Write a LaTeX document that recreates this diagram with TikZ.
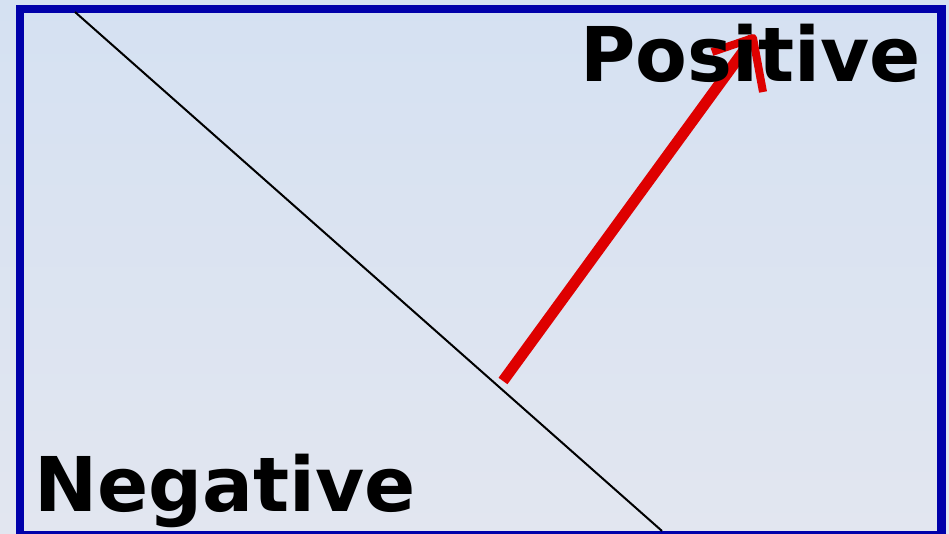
\documentclass[tikz,border=0pt]{standalone}
\usepackage{fontspec}
\setmainfont{DejaVu Sans}
\definecolor{bgtop}{RGB}{213,225,242}
\definecolor{bgbot}{RGB}{226,230,240}
\definecolor{frameblue}{RGB}{0,0,170}
\definecolor{arrowred}{RGB}{222,0,0}
\tikzset{
  labeltext/.style={inner sep=0pt, font=\fontsize{75.5pt}{80pt}\selectfont\bfseries, text=black},
  divider/.style={black, line width=2pt},
  redstroke/.style={arrowred, line width=11pt},
  redbarb/.style={arrowred, line width=8pt, line join=round},
}
\begin{document}
\begin{tikzpicture}[x=1pt,y=-1pt]
\useasboundingbox (0,0) rectangle (949,533);
\clip (0,0) rectangle (949,533);
\shade[top color=bgtop, bottom color=bgbot] (0,0) rectangle (949,533);
\draw[frameblue, line width=8.5pt] (20,9) rectangle (941.5,535.5);
\coordinate (ltop) at (75,12);
\coordinate (lbot) at (662,531);
\draw[divider] (ltop) -- (lbot);
\coordinate (tail) at (503,381);
\coordinate (tip) at (753,38);
\coordinate (barbL) at (712,52);
\coordinate (barbR) at (763,92);
\draw[redstroke] (tail) -- (tip);
\draw[redbarb] (barbL) -- (tip) -- (barbR);
\node[labeltext, anchor=base west] (pos) at (580,81) {Positive};
\node[labeltext, anchor=base west] (neg) at (34,511) {Negative};
\end{tikzpicture}
\end{document}
